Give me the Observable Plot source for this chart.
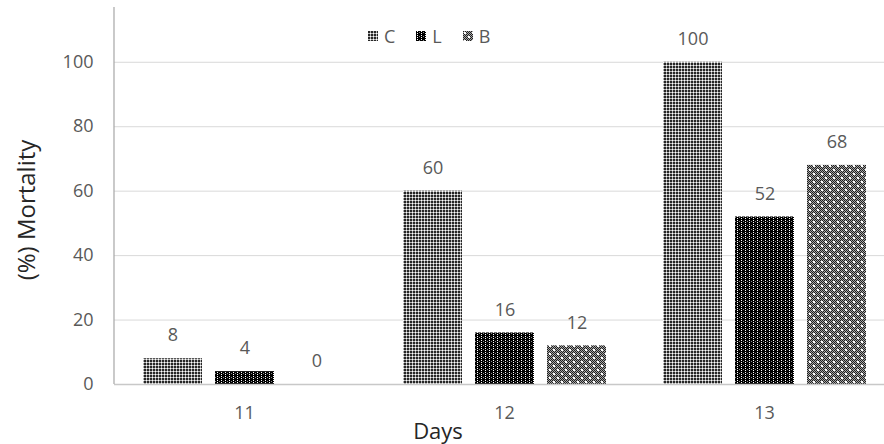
<!DOCTYPE html>
<html>
<head>
<meta charset="utf-8">
<script src="https://cdn.jsdelivr.net/npm/d3@7"></script>
<script src="https://cdn.jsdelivr.net/npm/@observablehq/plot@0.6"></script>
<style>
  html, body { margin: 0; padding: 0; background: #fff; overflow: hidden; }
  #wrap { position: relative; width: 884px; height: 444px; overflow: hidden; font-family: "Open Sans", sans-serif; }
  #chart svg { max-width: none !important; }
  #legend { position: absolute; left: 368px; top: 24px; display: flex; align-items: center; font-size: 18px; color: #595959; }
  #legend span.item { display: inline-flex; align-items: center; margin-right: 21px; }
  #legend svg { margin-right: 6px; }
  #ylab { position: absolute; left: 25px; top: 210px; transform: translate(-50%, -50%) rotate(-90deg); font-size: 24px; color: #262626; white-space: nowrap; }
  #xlab { position: absolute; left: 438px; top: 430px; transform: translate(-50%, -50%); font-size: 22px; color: #262626; }
</style>
</head>
<body>
<svg width="0" height="0" style="position:absolute">
  <defs>
    <pattern id="pC" width="3" height="3" patternUnits="userSpaceOnUse">
      <rect width="3" height="3" fill="#b0b0b0"/>
      <rect width="2" height="2" fill="#262626"/>
      <rect x="2" y="2" width="1" height="1" fill="#fff"/>
    </pattern>
    <pattern id="pL" width="4" height="4" patternUnits="userSpaceOnUse">
      <rect width="4" height="4" fill="#000"/>
      <rect x="1" y="0" width="1" height="1" fill="#fff"/>
      <rect x="1" y="2" width="1" height="1" fill="#fff"/>
      <rect x="3" y="1" width="1" height="1" fill="#888"/>
    </pattern>
    <pattern id="pB" width="8" height="8" patternUnits="userSpaceOnUse">
      <rect width="8" height="8" fill="#a8a8a8"/>
      <path d="M0,0h1v1h-1zM2,0h1v1h-1zM4,0h1v1h-1zM6,0h1v1h-1zM1,1h1v1h-1zM3,1h1v1h-1zM5,1h1v1h-1zM7,1h1v1h-1zM0,2h1v1h-1zM2,2h1v1h-1zM4,2h1v1h-1zM6,2h1v1h-1zM1,3h1v1h-1zM3,3h1v1h-1zM5,3h1v1h-1zM7,3h1v1h-1zM0,4h1v1h-1zM2,4h1v1h-1zM4,4h1v1h-1zM6,4h1v1h-1zM1,5h1v1h-1zM3,5h1v1h-1zM5,5h1v1h-1zM7,5h1v1h-1zM0,6h1v1h-1zM2,6h1v1h-1zM4,6h1v1h-1zM6,6h1v1h-1zM1,7h1v1h-1zM3,7h1v1h-1zM5,7h1v1h-1zM7,7h1v1h-1z" fill="#1e1e1e"/>
      <rect x="1" y="1" width="2" height="2" fill="#fff"/>
      <rect x="5" y="5" width="2" height="2" fill="#fff"/>
    </pattern>
  </defs>
</svg>
<div id="wrap">
  <div id="chart"></div>
  <div id="legend"></div>
  <div id="ylab">(%) Mortality</div>
  <div id="xlab">Days</div>
</div>
<script>
const days = ["11", "12", "13"];
const series = ["C", "L", "B"];
const valuesC = [8, 60, 100];
const valuesL = [4, 16, 52];
const valuesB = [0, 12, 68];
const yTicks = [0, 20, 40, 60, 80, 100];
const patterns = ["url(#pC)", "url(#pL)", "url(#pB)"];

const seriesValues = {C: valuesC, L: valuesL, B: valuesB};
const data = [];
days.forEach((d, i) => series.forEach(s => data.push({day: d, series: s, value: seriesValues[s][i]})));

const plot = Plot.plot({
  width: 894,
  height: 444,
  marginLeft: 114,
  marginRight: 0,
  marginTop: 7,
  marginBottom: 60,
  style: {fontFamily: "Open Sans, sans-serif", fontSize: "18px", color: "#595959", background: "transparent", maxWidth: "none"},
  fx: {domain: days, padding: 0, label: null, tickSize: 0, tickPadding: 22},
  x: {domain: series, paddingInner: 0.186, paddingOuter: 0.386, axis: null},
  y: {domain: [0, 117], ticks: yTicks, tickSize: 0, tickPadding: 21, label: null},
  color: {domain: series, range: patterns},
  marks: [
    Plot.ruleY(yTicks.filter(t => t > 0), {stroke: "#d9d9d9", strokeWidth: 1}),
    Plot.barY(data, {fx: "day", x: "series", y: "value", fill: "series"}),
    Plot.ruleY([0], {stroke: "#c8c8c8", strokeWidth: 1.5}),
    Plot.text(data, {fx: "day", x: "series", y: "value", text: d => String(d.value), dy: -23, fill: "#595959", fontSize: 18})
  ]
});
plot.style.maxWidth = "none";
document.getElementById("chart").appendChild(plot);

// vertical value axis line at the left edge of the frame
const ys = plot.scale("y");
const fxs = plot.scale("fx");
const svg = d3.select(plot);
svg.append("line")
  .attr("x1", fxs.range[0]).attr("x2", fxs.range[0])
  .attr("y1", ys.range[1]).attr("y2", ys.range[0])
  .attr("stroke", "#a6a6a6").attr("stroke-width", 1.2);

// legend
const legend = document.getElementById("legend");
series.forEach((s, i) => {
  const item = document.createElement("span");
  item.className = "item";
  item.innerHTML = `<svg width="10" height="10"><rect width="10" height="10" fill="${patterns[i]}"/></svg><span>${s}</span>`;
  legend.appendChild(item);
});
</script>
</body>
</html>
